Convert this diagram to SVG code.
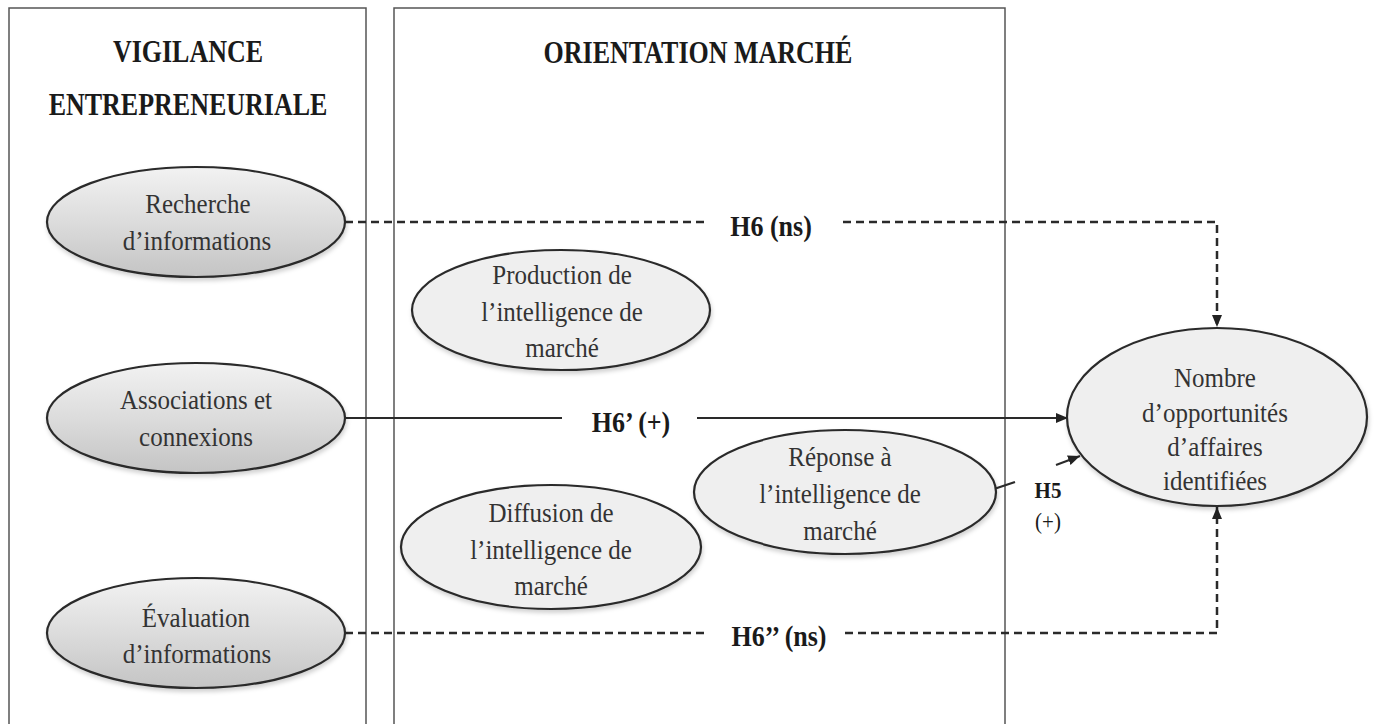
<svg xmlns="http://www.w3.org/2000/svg" width="1374" height="724" viewBox="0 0 1374 724">
<defs>
<linearGradient id="gl" x1="0" y1="0" x2="0" y2="1">
<stop offset="0" stop-color="#f2f2f2"/>
<stop offset="0.5" stop-color="#dcdcdc"/>
<stop offset="1" stop-color="#c4c4c4"/>
</linearGradient>
<filter id="sh" x="-10%" y="-10%" width="120%" height="130%">
<feDropShadow dx="1" dy="3" stdDeviation="2" flood-color="#000" flood-opacity="0.18"/>
</filter>
<marker id="ah" viewBox="0 0 12 10" refX="12" refY="5" markerWidth="12" markerHeight="10" markerUnits="userSpaceOnUse" orient="auto">
<path d="M0,0 L12,5 L0,10 Z" fill="#222"/>
</marker>
</defs>
<style>
text{transform-box:fill-box;transform-origin:center}
.box{fill:none;stroke:#555;stroke-width:1.5}
.title{font-family:"Liberation Serif","Times New Roman",serif;font-weight:bold;font-size:26px;fill:#1a1a1a;text-anchor:middle;transform:scaleY(1.2)}
.left{fill:url(#gl);stroke:#2a2a2a;stroke-width:2.2;filter:url(#sh)}
.mid{fill:#efefef;stroke:#2a2a2a;stroke-width:2.2;filter:url(#sh)}
.t{font-family:"Liberation Serif","Times New Roman",serif;font-size:25px;fill:#333;text-anchor:middle;transform:scaleY(1.12)}
.lbl{font-family:"Liberation Serif","Times New Roman",serif;font-size:26px;font-weight:bold;fill:#1a1a1a;text-anchor:middle;transform:scaleY(1.1)}
.lbs{font-family:"Liberation Serif","Times New Roman",serif;font-size:21px;fill:#1a1a1a;text-anchor:middle;transform:scaleY(1.1)}
.dash{fill:none;stroke:#2a2a2a;stroke-width:2.5;stroke-dasharray:8 5}
.solid{fill:none;stroke:#2a2a2a;stroke-width:2.2}
</style>
<rect width="1374" height="724" fill="#fff"/>
<g id="panel-vigilance">
<rect class="box" x="9" y="8" width="357" height="730"/>
<text class="title" x="188" y="60">VIGILANCE</text>
<text class="title" x="188" y="113">ENTREPRENEURIALE</text>
</g>
<g id="panel-orientation">
<rect class="box" x="394" y="8" width="611" height="730"/>
<text class="title" x="698" y="61">ORIENTATION MARCHÉ</text>
</g>
<g id="connectors">
<path class="dash" d="M345,222 H705"/>
<path class="dash" d="M843,222 H1217 V327" marker-end="url(#ah)"/>
<text class="lbl" x="771" y="235">H6 (ns)</text>
<path class="solid" d="M345,418 H562"/>
<path class="solid" d="M697,418 H1068" marker-end="url(#ah)"/>
<text class="lbl" x="631" y="431">H6’ (+)</text>
<path class="dash" d="M345,633 H705"/>
<path class="dash" d="M845,633 H1217 V507" marker-end="url(#ah)"/>
<text class="lbl" x="779" y="645">H6’’ (ns)</text>
<path class="solid" d="M994,489 L1015,482"/>
<path class="solid" d="M1056,465 L1080,456" marker-end="url(#ah)"/>
<text class="lbs" x="1048" y="497" style="font-weight:bold">H5</text>
<text class="lbs" x="1048" y="528">(+)</text>
</g>
<g id="node-recherche">
<ellipse class="left" cx="196" cy="222" rx="149" ry="55"/>
<text class="t" x="198" y="212">Recherche</text>
<text class="t" x="197" y="249">d’informations</text>
</g>
<g id="node-associations">
<ellipse class="left" cx="196" cy="418" rx="149" ry="55"/>
<text class="t" x="196" y="408">Associations et</text>
<text class="t" x="196" y="445">connexions</text>
</g>
<g id="node-evaluation">
<ellipse class="left" cx="196" cy="633" rx="149" ry="55"/>
<text class="t" x="196" y="626">Évaluation</text>
<text class="t" x="197" y="662">d’informations</text>
</g>
<g id="node-production">
<ellipse class="mid" cx="561" cy="310" rx="149" ry="60"/>
<text class="t" x="562" y="283">Production de</text>
<text class="t" x="562" y="320">l’intelligence de</text>
<text class="t" x="562" y="356">marché</text>
</g>
<g id="node-diffusion">
<ellipse class="mid" cx="551" cy="547" rx="150" ry="62"/>
<text class="t" x="551" y="521">Diffusion de</text>
<text class="t" x="551" y="558">l’intelligence de</text>
<text class="t" x="551" y="594">marché</text>
</g>
<g id="node-reponse">
<ellipse class="mid" cx="845" cy="492" rx="151" ry="62"/>
<text class="t" x="840" y="465">Réponse à</text>
<text class="t" x="840" y="502">l’intelligence de</text>
<text class="t" x="840" y="539">marché</text>
</g>
<g id="node-nombre">
<ellipse class="mid" cx="1217" cy="417" rx="150" ry="89"/>
<text class="t" x="1215" y="386">Nombre</text>
<text class="t" x="1215" y="421">d’opportunités</text>
<text class="t" x="1215" y="455">d’affaires</text>
<text class="t" x="1215" y="489">identifiées</text>
</g>
</svg>
